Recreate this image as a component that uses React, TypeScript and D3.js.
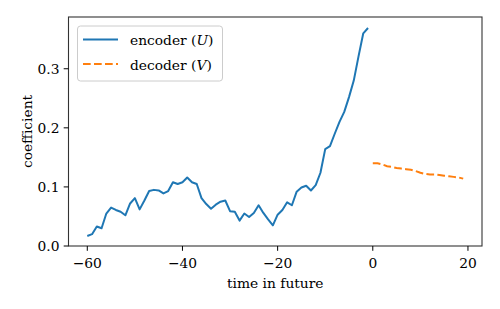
import React from "react";
import * as d3 from "d3";

// encoder coefficients, t = -60 .. -1
const encoderT = d3.range(-60, 0);
const encoderU = [
  0.017, 0.020, 0.033, 0.030, 0.055, 0.065, 0.061, 0.058, 0.052, 0.072,
  0.081, 0.062, 0.077, 0.093, 0.095, 0.094, 0.089, 0.093, 0.108, 0.105,
  0.108, 0.116, 0.108, 0.105, 0.081, 0.071, 0.063, 0.070, 0.075, 0.077,
  0.059, 0.058, 0.043, 0.055, 0.049, 0.056, 0.069, 0.056, 0.045, 0.035,
  0.053, 0.061, 0.074, 0.069, 0.092, 0.099, 0.102, 0.094, 0.103, 0.124,
  0.164, 0.169, 0.190, 0.210, 0.227, 0.252, 0.280, 0.321, 0.360, 0.369,
];

// decoder coefficients, t = 0 .. 19
const decoderT = d3.range(0, 20);
const decoderV = [
  0.140, 0.140, 0.138, 0.135, 0.134, 0.132, 0.131, 0.130, 0.129, 0.127,
  0.124, 0.122, 0.121, 0.121, 0.120, 0.119, 0.118, 0.117, 0.116, 0.114,
];

const xTicks = [-60, -40, -20, 0, 20];
const yTicks = [0.0, 0.1, 0.2, 0.3];

const W = 500;
const H = 309;
const margin = { left: 68.5, right: 18, top: 17, bottom: 63 };
const font = "DejaVu Serif";
const fs = 13.8;

export default function App() {
  const x = d3.scaleLinear().domain([-63.95, 22.95]).range([margin.left, W - margin.right]);
  const y = d3.scaleLinear().domain([0, 0.3876]).range([H - margin.bottom, margin.top]);

  const line = d3.line<[number, number]>()
    .x((d) => x(d[0]))
    .y((d) => y(d[1]));

  const encPath = line(encoderT.map((t, i) => [t, encoderU[i]]));
  const decPath = line(decoderT.map((t, i) => [t, decoderV[i]]));

  const x0 = margin.left;
  const x1 = W - margin.right;
  const y0 = H - margin.bottom;
  const y1 = margin.top;

  return (
    <svg width={W} height={H} style={{ position: "absolute", left: 0, top: 0, fontFamily: font }}>
      <rect width={W} height={H} fill="white" />

      <path d={encPath ?? ""} fill="none" stroke="#1f77b4" strokeWidth={2} strokeLinejoin="round" />
      <path d={decPath ?? ""} fill="none" stroke="#ff7f0e" strokeWidth={2} strokeDasharray="7.7 3.3" />

      {/* frame */}
      <rect x={x0} y={y1} width={x1 - x0} height={y0 - y1} fill="none" stroke="#333" strokeWidth={1.1} />

      {/* x ticks */}
      {xTicks.map((t) => (
        <g key={t} transform={`translate(${x(t)},${y0})`}>
          <line y2={4.8} stroke="#000" strokeWidth={1} />
          <text y={22} textAnchor="middle" fontSize={fs}>{t < 0 ? `\u2212${-t}` : t}</text>
        </g>
      ))}

      {/* y ticks */}
      {yTicks.map((t) => (
        <g key={t} transform={`translate(${x0},${y(t)})`}>
          <line x2={-4.8} stroke="#000" strokeWidth={1} />
          <text x={-9} dy="0.36em" textAnchor="end" fontSize={fs}>{t.toFixed(1)}</text>
        </g>
      ))}

      <text x={(x0 + x1) / 2} y={288} textAnchor="middle" fontSize={fs}>time in future</text>
      <text transform={`translate(32,${(y0 + y1) / 2}) rotate(-90)`} textAnchor="middle" fontSize={fs}>coefficient</text>

      {/* legend */}
      <g>
        <rect x={77.5} y={26} width={145} height={55} rx={3} fill="white" fillOpacity={0.8} stroke="#ccc" strokeWidth={1} />
        <line x1={83} x2={118} y1={39.5} y2={39.5} stroke="#1f77b4" strokeWidth={2} />
        <line x1={83} x2={118} y1={64} y2={64} stroke="#ff7f0e" strokeWidth={2} strokeDasharray="7.7 3.3" />
        <text x={130} y={45} fontSize={fs}>encoder (<tspan fontStyle="italic">U</tspan>)</text>
        <text x={130} y={70} fontSize={fs}>decoder (<tspan fontStyle="italic">V</tspan>)</text>
      </g>
    </svg>
  );
}
